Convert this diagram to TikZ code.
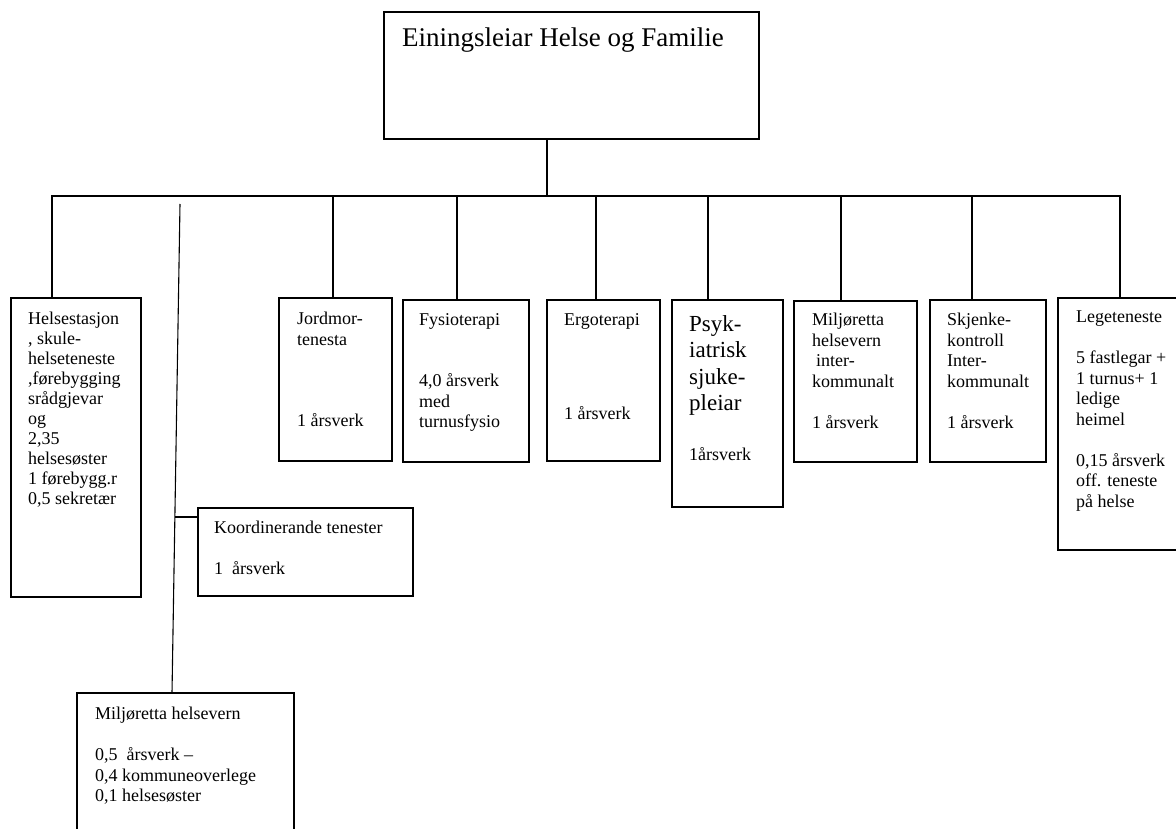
\documentclass[tikz,border=0pt]{standalone}
\usepackage{fontspec}
\setmainfont{Liberation Serif}
\begin{document}
\begin{tikzpicture}[x=1pt,y=-1pt,
  box/.style={draw, line width=1.1pt, rectangle, inner sep=0pt, outer sep=0pt, anchor=north west},
  txt/.style={anchor=north west, inner sep=0pt, align=left, font=\fontsize{18}{20.5}\selectfont},
  conn/.style={line width=1.1pt}]
\clip (0,0) rectangle (1176,829);
\fill[white] (0,0) rectangle (1176,829);
% boxes
\node[box, minimum width=375pt, minimum height=127pt] (top) at (384,12) {};
\node[box, minimum width=130pt, minimum height=299pt] (hs) at (11,298) {};
\node[box, minimum width=113pt, minimum height=163pt] (jord) at (279,298) {};
\node[box, minimum width=126pt, minimum height=162pt] (fys) at (403,300) {};
\node[box, minimum width=113pt, minimum height=161pt] (ergo) at (547,300) {};
\node[box, minimum width=111pt, minimum height=207pt] (psyk) at (672,300) {};
\node[box, minimum width=123pt, minimum height=161pt] (milj) at (794,301) {};
\node[box, minimum width=116pt, minimum height=162pt] (skj) at (930,300) {};
\node[box, minimum width=130pt, minimum height=252pt] (lege) at (1058,298) {};
\node[box, minimum width=215pt, minimum height=88pt] (koord) at (198,508) {};
\node[box, minimum width=217pt, minimum height=150pt] (mhb) at (77,693) {};
% texts
\node[txt, font=\fontsize{27}{31}\selectfont] (ttop) at (402,27.5) {Einingsleiar Helse og Familie};
\node[txt, font=\fontsize{18}{20}\selectfont] (ths) at (28,312) {Helsestasjon\\, skule-\\helseteneste\\,førebygging\\srådgjevar\\og\\2,35\\helsesøster\\1 førebygg.r\\0,5 sekretær};
\node[txt] (tjord) at (297,312) {Jordmor-\\tenesta\\[61pt]1 årsverk};
\node[txt] (tfys) at (419,313) {Fysioterapi\\[41pt]4,0 årsverk\\med\\turnusfysio};
\node[txt] (tergo) at (564,313) {Ergoterapi\\[74pt]1 årsverk};
\node[txt, font=\fontsize{23}{26.5}\selectfont] (tpsyk) at (689,315) {Psyk-\\iatrisk\\sjuke-\\pleiar};
\node[txt] (tpsyk2) at (689,447) {1årsverk};
\node[txt] (tmilj) at (812,313) {Miljøretta\\helsevern\\\hspace*{4pt}inter-\\kommunalt\\[20.5pt]1 årsverk};
\node[txt] (tskj) at (947,313) {Skjenke-\\kontroll\\Inter-\\kommunalt\\[20.5pt]1 årsverk};
\node[txt] (tlege) at (1076,311) {Legeteneste\\[20.5pt]5 fastlegar +\\1 turnus+ 1\\ledige\\heimel\\[20.5pt]0,15 årsverk\\off. teneste\\på helse};
\node[txt] (tkoord) at (214,521) {Koordinerande tenester\\[20.5pt]1\ \ årsverk};
\node[txt] (tmhb) at (95,707) {Miljøretta helsevern\\[20.5pt]0,5\ \ årsverk --\\0,4 kommuneoverlege\\0,1 helsesøster};
% connectors
\coordinate (bus) at (547,196);
\draw[conn] ([xshift=163pt]top.south west) -- (bus);
\draw[conn] (bus) -| ([xshift=41pt]hs.north west);
\draw[conn] (bus) -| ([xshift=54pt]jord.north west);
\draw[conn] (bus) -| ([xshift=54pt]fys.north west);
\draw[conn] (bus) -| ([xshift=49pt]ergo.north west);
\draw[conn] (bus) -| ([xshift=36pt]psyk.north west);
\draw[conn] (bus) -| ([xshift=47pt]milj.north west);
\draw[conn] (bus) -| ([xshift=42pt]skj.north west);
\draw[conn] (bus) -| ([xshift=62pt]lege.north west);
\coordinate (s1) at (180,204);
\draw[conn] (s1) -- ([xshift=95pt]mhb.north west);
\coordinate (kb) at (175,517);
\draw[conn] (kb) -- ([yshift=-9pt]koord.north west);
\end{tikzpicture}
\end{document}
